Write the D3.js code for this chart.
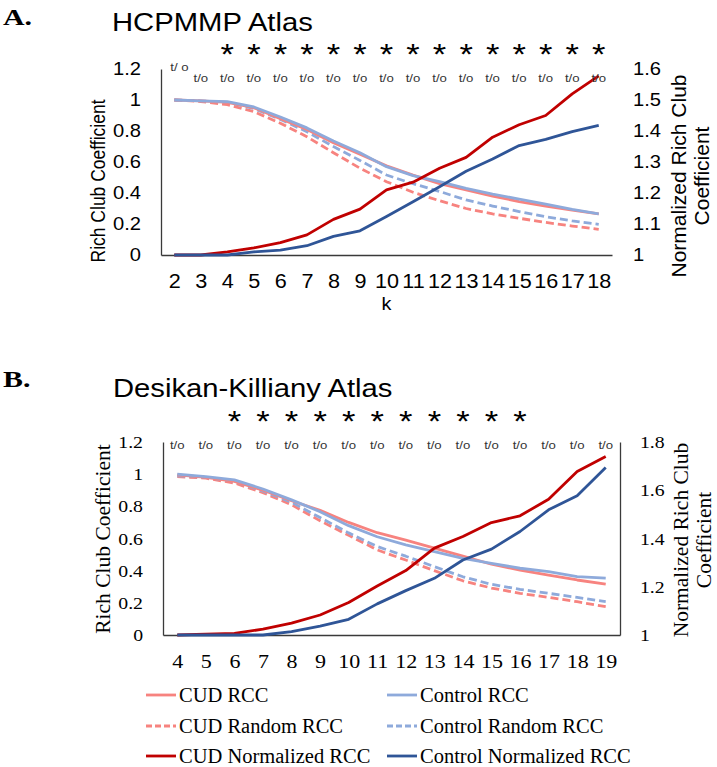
<!DOCTYPE html>
<html>
<head>
<meta charset="utf-8">
<script src="https://cdn.jsdelivr.net/npm/d3@7"></script>
<style>
  html, body { margin: 0; padding: 0; background: #fff; }
  svg { display: block; }
</style>
</head>
<body>
<svg id="chart" width="717" height="767"></svg>
<script>
// ---------------- DATA ----------------
// Panel A: HCPMMP Atlas
const kA = [2, 3, 4, 5, 6, 7, 8, 9, 10, 11, 12, 13, 14, 15, 16, 17, 18];
const cudRccA    = [1.0, 0.995, 0.985, 0.95, 0.88, 0.81, 0.725, 0.65, 0.575, 0.515, 0.46, 0.42, 0.38, 0.345, 0.315, 0.29, 0.265];
const ctrlRccA   = [1.0, 0.995, 0.99, 0.955, 0.89, 0.82, 0.735, 0.66, 0.57, 0.512, 0.473, 0.43, 0.393, 0.361, 0.329, 0.295, 0.265];
const cudRandA   = [1.0, 0.99, 0.97, 0.925, 0.85, 0.763, 0.66, 0.56, 0.473, 0.405, 0.35, 0.30, 0.265, 0.237, 0.21, 0.187, 0.166];
const ctrlRandA  = [1.0, 0.995, 0.985, 0.945, 0.875, 0.795, 0.70, 0.61, 0.516, 0.46, 0.41, 0.355, 0.316, 0.28, 0.247, 0.22, 0.198];
const cudNormA   = [1.0, 1.0, 1.01, 1.023, 1.04, 1.065, 1.115, 1.148, 1.21, 1.235, 1.28, 1.315, 1.38, 1.42, 1.45, 1.52, 1.578];
const ctrlNormA  = [1.0, 1.0, 1.0, 1.01, 1.016, 1.03, 1.06, 1.078, 1.124, 1.172, 1.22, 1.27, 1.31, 1.353, 1.373, 1.398, 1.418];
const starsA = [4, 5, 6, 7, 8, 9, 10, 11, 12, 13, 14, 15, 16, 17, 18];
const toA = ["t/ o", "t/o", "t/o", "t/o", "t/o", "t/o", "t/o", "t/o", "t/o", "t/o", "t/o", "t/o", "t/o", "t/o", "t/o", "t/o", "t/o"];
const leftTicksA  = [0, 0.2, 0.4, 0.6, 0.8, 1, 1.2];
const rightTicksA = [1, 1.1, 1.2, 1.3, 1.4, 1.5, 1.6];

// Panel B: Desikan-Killiany Atlas
const kB = [4, 5, 6, 7, 8, 9, 10, 11, 12, 13, 14, 15, 16, 17, 18, 19];
const cudRccB    = [0.995, 0.98, 0.955, 0.9, 0.835, 0.775, 0.70, 0.636, 0.59, 0.54, 0.49, 0.44, 0.404, 0.373, 0.342, 0.317];
const ctrlRccB   = [1.0, 0.985, 0.964, 0.908, 0.84, 0.767, 0.68, 0.611, 0.56, 0.518, 0.477, 0.446, 0.415, 0.394, 0.363, 0.353];
const cudRandB   = [0.985, 0.975, 0.945, 0.885, 0.81, 0.71, 0.62, 0.529, 0.466, 0.40, 0.337, 0.292, 0.259, 0.234, 0.207, 0.176];
const ctrlRandB  = [0.99, 0.98, 0.955, 0.895, 0.825, 0.73, 0.635, 0.55, 0.49, 0.425, 0.362, 0.315, 0.284, 0.259, 0.234, 0.207];
const cudNormB   = [1.0, 1.004, 1.007, 1.024, 1.049, 1.083, 1.135, 1.203, 1.267, 1.36, 1.408, 1.466, 1.494, 1.563, 1.678, 1.74];
const ctrlNormB  = [1.0, 1.0, 1.0, 1.0, 1.014, 1.037, 1.065, 1.129, 1.184, 1.235, 1.311, 1.356, 1.429, 1.519, 1.577, 1.694];
const starsB = [6, 7, 8, 9, 10, 11, 12, 13, 14, 15, 16];
const toB = ["t/o", "t/o", "t/o", "t/o", "t/o", "t/o", "t/o", "t/o", "t/o", "t/o", "t/o", "t/o", "t/o", "t/o", "t/o", "t/o"];
const leftTicksB  = [0, 0.2, 0.4, 0.6, 0.8, 1, 1.2];
const rightTicksB = [1, 1.2, 1.4, 1.6, 1.8];

const legendLabels = ["CUD RCC", "Control RCC", "CUD Random RCC", "Control Random RCC", "CUD Normalized RCC", "Control Normalized RCC"];

// ---------------- STYLE ----------------
const SANS = "'Liberation Sans', Arial, sans-serif";
const SERIF = "'Liberation Serif', 'Times New Roman', serif";
const C_CUD_LIGHT = "#F7837F";
const C_CTRL_LIGHT = "#8EAADB";
const C_CUD_DARK = "#C00000";
const C_CTRL_DARK = "#2F5597";
const AXIS_COLOR = "#3a3a3a";

const svg = d3.select("#chart");
svg.append("rect").attr("width", 717).attr("height", 767).attr("fill", "#fff");

function addText(parent, o) {
  let tr = `translate(${o.x},${o.y})`;
  if (o.rotate) tr += ` rotate(${o.rotate})`;
  tr += ` scale(${o.sx || 1},${o.sy || 1})`;
  return parent.append("text")
    .attr("transform", tr)
    .attr("font-family", o.family)
    .attr("font-size", o.size)
    .attr("font-weight", o.weight || "normal")
    .attr("text-anchor", o.anchor || "start")
    .attr("fill", o.fill || "#000")
    .text(o.text);
}

const fmt = d => String(+d.toFixed(1));

function drawPanel(p) {
  const g = svg.append("g");
  const x = d3.scalePoint().domain(p.k).range(p.xRange).padding(0.5);
  const yL = d3.scaleLinear().domain([0, 1.2]).range([p.yBottom, p.yTop]);
  const yR = d3.scaleLinear().domain(p.rightDomain).range([p.yBottom, p.yTop]);

  // Axes
  const ax = g.append("g").attr("transform", `translate(0,${p.yBottom})`)
    .call(d3.axisBottom(x).tickSize(0).tickSizeOuter(0))
    .attr("font-family", p.family).attr("font-size", p.xTickSize);
  ax.select(".domain").attr("stroke", AXIS_COLOR).attr("stroke-width", 1.3);
  ax.selectAll("text").attr("dy", null).attr("y", p.xTickBase).attr("fill", "#000")
    .attr("transform", `scale(${p.xTickSx},1)`);

  const ay = g.append("g").attr("transform", `translate(${p.xRange[0]},0)`)
    .call(d3.axisLeft(yL).tickValues(p.leftTicks).tickSize(0).tickSizeOuter(0).tickFormat(fmt))
    .attr("font-family", p.family).attr("font-size", p.yTickSize);
  ay.select(".domain").attr("stroke", AXIS_COLOR).attr("stroke-width", 1.3);
  ay.selectAll("text").attr("x", -p.yTickPad / p.yTickSx).attr("fill", "#000")
    .attr("transform", `scale(${p.yTickSx},1)`);

  const ar = g.append("g").attr("transform", `translate(${p.xRange[1]},0)`)
    .call(d3.axisRight(yR).tickValues(p.rightTicks).tickSize(0).tickSizeOuter(0).tickFormat(fmt))
    .attr("font-family", p.family).attr("font-size", p.yTickSize);
  if (p.rightDomainLine) ar.select(".domain").attr("stroke", AXIS_COLOR).attr("stroke-width", 1.3);
  else ar.select(".domain").remove();
  ar.selectAll("text").attr("x", p.rTickPad / p.yTickSx).attr("fill", "#000")
    .attr("transform", `scale(${p.yTickSx},1)`);

  // Series
  const series = [
    { v: p.cudRand, s: yL, c: C_CUD_LIGHT, dash: "8,4" },
    { v: p.ctrlRand, s: yL, c: C_CTRL_LIGHT, dash: "8,4" },
    { v: p.cudRcc, s: yL, c: C_CUD_LIGHT, dash: null },
    { v: p.ctrlRcc, s: yL, c: C_CTRL_LIGHT, dash: null },
    { v: p.cudNorm, s: yR, c: C_CUD_DARK, dash: null },
    { v: p.ctrlNorm, s: yR, c: C_CTRL_DARK, dash: null }
  ];
  series.forEach(se => {
    const line = d3.line().x((d, i) => x(p.k[i])).y(d => se.s(d));
    g.append("path").attr("d", line(se.v)).attr("fill", "none")
      .attr("stroke", se.c).attr("stroke-width", 2.8)
      .attr("stroke-linejoin", "round")
      .attr("stroke-dasharray", se.dash);
  });

  // significance marks
  p.stars.forEach(kk => {
    addText(g, { x: x(kk), y: p.starBase, text: "*", size: 30, family: SANS, anchor: "middle", sx: 1.15 });
  });
  p.to.forEach((t, i) => {
    if (i === 0 && p.firstRaised) {
      addText(g, { x: x(p.k[i]) - 4, y: p.firstRaisedBase, text: t, size: 11, family: SANS, anchor: "start", sx: 1.2, fill: "#333" });
    } else {
      addText(g, { x: x(p.k[i]), y: p.toBase, text: t, size: 11, family: SANS, anchor: "middle", sx: 1.2, fill: "#333" });
    }
  });

  // Panel letter and title
  addText(g, { x: 3, y: p.letterBase, text: p.letter, size: 23, family: SERIF, weight: "bold", sx: 1.3 });
  addText(g, { x: p.titleX, y: p.titleBase, text: p.title, size: 25, family: SANS, sx: 1.17 });

  // Axis titles
  addText(g, { x: p.lTitleX, y: p.lTitleY, text: "Rich Club Coefficient", size: p.lTitleSize, family: p.family, anchor: "middle", rotate: -90, sy: p.lTitleSy });
  addText(g, { x: p.rTitleX1, y: p.rTitleY, text: "Normalized Rich Club", size: p.rTitleSize, family: p.family, anchor: "middle", rotate: -90 });
  addText(g, { x: p.rTitleX2, y: p.rTitleY, text: "Coefficient", size: p.rTitleSize, family: p.family, anchor: "middle", rotate: -90 });

  if (p.xTitle) {
    addText(g, { x: (p.xRange[0] + p.xRange[1]) / 2, y: p.xTitleBase, text: p.xTitle, size: 18, family: p.family, anchor: "middle", sx: 1.1 });
  }
}

drawPanel({
  k: kA, cudRcc: cudRccA, ctrlRcc: ctrlRccA, cudRand: cudRandA, ctrlRand: ctrlRandA, cudNorm: cudNormA, ctrlNorm: ctrlNormA,
  stars: starsA, to: toA, leftTicks: leftTicksA, rightTicks: rightTicksA,
  xRange: [161, 612], yTop: 69, yBottom: 255, rightDomain: [1, 1.6], rightDomainLine: false,
  family: SANS, xTickSize: 21, xTickSx: 1.03, xTickBase: 33, yTickSize: 18, yTickSx: 1.12, yTickPad: 20, rTickPad: 21,
  starBase: 64, toBase: 82, firstRaised: true, firstRaisedBase: 71,
  letter: "A.", letterBase: 25, title: "HCPMMP Atlas", titleX: 112, titleBase: 31,
  lTitleX: 105, lTitleY: 181, lTitleSize: 17.5, lTitleSy: 1.18,
  rTitleX1: 686, rTitleX2: 709, rTitleY: 176, rTitleSize: 21,
  xTitle: "k", xTitleBase: 310
});

drawPanel({
  k: kB, cudRcc: cudRccB, ctrlRcc: ctrlRccB, cudRand: cudRandB, ctrlRand: ctrlRandB, cudNorm: cudNormB, ctrlNorm: ctrlNormB,
  stars: starsB, to: toB, leftTicks: leftTicksB, rightTicks: rightTicksB,
  xRange: [163, 620], yTop: 442, yBottom: 635, rightDomain: [1, 1.8], rightDomainLine: true,
  family: SERIF, xTickSize: 19.5, xTickSx: 1.13, xTickBase: 33, yTickSize: 17.5, yTickSx: 1.13, yTickPad: 20, rTickPad: 20,
  starBase: 430.5, toBase: 449, firstRaised: false,
  letter: "B.", letterBase: 387, title: "Desikan-Killiany Atlas", titleX: 113, titleBase: 397,
  lTitleX: 110, lTitleY: 539, lTitleSize: 21.5, lTitleSy: 1,
  rTitleX1: 688, rTitleX2: 711, rTitleY: 540, rTitleSize: 21.5,
  xTitle: null
});

// ---------------- LEGEND ----------------
const legendStyle = [
  { c: C_CUD_LIGHT, dash: null }, { c: C_CTRL_LIGHT, dash: null },
  { c: C_CUD_LIGHT, dash: "6,3" }, { c: C_CTRL_LIGHT, dash: "6,3" },
  { c: C_CUD_DARK, dash: null }, { c: C_CTRL_DARK, dash: null }
];
const legCols = [146, 387];
const legRows = [695, 726, 756];
const legBase = [702, 733, 763];
const lg = svg.append("g");
legendLabels.forEach((lab, i) => {
  const col = i % 2, row = Math.floor(i / 2);
  const x0 = legCols[col];
  lg.append("line").attr("x1", x0).attr("x2", x0 + 30)
    .attr("y1", legRows[row]).attr("y2", legRows[row])
    .attr("stroke", legendStyle[i].c).attr("stroke-width", 2.8)
    .attr("stroke-dasharray", legendStyle[i].dash);
  addText(lg, { x: x0 + 33, y: legBase[row], text: lab, size: 20.5, family: SERIF });
});
</script>
</body>
</html>
